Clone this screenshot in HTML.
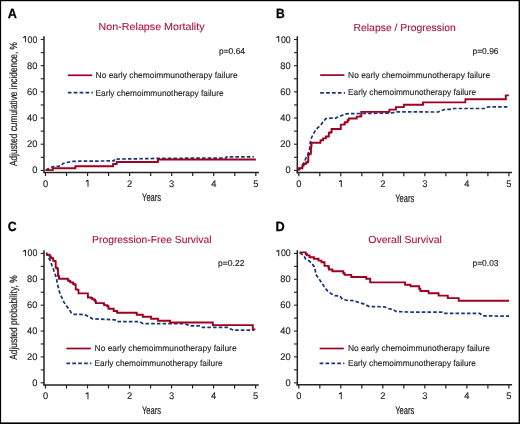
<!DOCTYPE html>
<html><head><meta charset="utf-8"><style>
html,body{margin:0;padding:0;background:#fff;}
body{width:520px;height:424px;overflow:hidden;}
svg{display:block;will-change:transform;}
text{font-family:"Liberation Sans",sans-serif;fill:#222222;text-rendering:geometricPrecision;}
.tk{font-size:9.6px;stroke:#222222;stroke-width:0.12px;}
.yr{font-size:11px;stroke:#222222;stroke-width:0.2px;}
.ti{font-size:10.3px;fill:#aa0d3e;stroke:#aa0d3e;stroke-width:0.08px;}
.lt{font-size:13.4px;font-weight:bold;fill:#000;stroke:#000;stroke-width:0.25px;}
.pv{font-size:8.6px;stroke:#222222;stroke-width:0.15px;}
.lg{font-size:8.5px;stroke:#222222;stroke-width:0.12px;}
.yl{font-size:10.5px;stroke:#222222;stroke-width:0.2px;}
</style></head><body>
<svg width="520" height="424" viewBox="0 0 520 424">
<rect x="0" y="0" width="520" height="424" fill="#fff"/>
<rect x="0" y="0" width="520" height="1.2" fill="#000"/>
<rect x="0" y="0" width="1.1" height="424" fill="#000"/>
<rect x="518.6" y="0" width="1.4" height="424" fill="#000"/>
<rect x="0" y="422.4" width="520" height="1.6" fill="#000"/>
<line x1="44.0" y1="36.3" x2="44.0" y2="173.1" stroke="#222222" stroke-width="1.5"/>
<line x1="43.3" y1="172.4" x2="259.00" y2="172.4" stroke="#222222" stroke-width="1.5"/>
<line x1="40.70" y1="170.40" x2="44.0" y2="170.40" stroke="#222222" stroke-width="1.1"/>
<text transform="translate(37.40,173.40) scale(0.97,1)" text-anchor="end" class="tk">0</text>
<line x1="40.70" y1="157.31" x2="44.0" y2="157.31" stroke="#222222" stroke-width="1.1"/>
<line x1="40.70" y1="144.22" x2="44.0" y2="144.22" stroke="#222222" stroke-width="1.1"/>
<text transform="translate(37.40,147.22) scale(0.97,1)" text-anchor="end" class="tk">20</text>
<line x1="40.70" y1="131.13" x2="44.0" y2="131.13" stroke="#222222" stroke-width="1.1"/>
<line x1="40.70" y1="118.04" x2="44.0" y2="118.04" stroke="#222222" stroke-width="1.1"/>
<text transform="translate(37.40,121.04) scale(0.97,1)" text-anchor="end" class="tk">40</text>
<line x1="40.70" y1="104.95" x2="44.0" y2="104.95" stroke="#222222" stroke-width="1.1"/>
<line x1="40.70" y1="91.86" x2="44.0" y2="91.86" stroke="#222222" stroke-width="1.1"/>
<text transform="translate(37.40,94.86) scale(0.97,1)" text-anchor="end" class="tk">60</text>
<line x1="40.70" y1="78.77" x2="44.0" y2="78.77" stroke="#222222" stroke-width="1.1"/>
<line x1="40.70" y1="65.68" x2="44.0" y2="65.68" stroke="#222222" stroke-width="1.1"/>
<text transform="translate(37.40,68.68) scale(0.97,1)" text-anchor="end" class="tk">80</text>
<line x1="40.70" y1="52.59" x2="44.0" y2="52.59" stroke="#222222" stroke-width="1.1"/>
<line x1="40.70" y1="39.50" x2="44.0" y2="39.50" stroke="#222222" stroke-width="1.1"/>
<text transform="translate(37.40,42.50) scale(0.92,1)" text-anchor="end" class="tk">00</text>
<path d="M25.45,36.00 L25.45,42.20" stroke="#222222" stroke-width="1.0" fill="none"/>
<path d="M25.25,36.35 L23.25,37.70" stroke="#222222" stroke-width="1.2" fill="none"/>
<line x1="45.50" y1="172.4" x2="45.50" y2="176.00" stroke="#222222" stroke-width="1.2"/>
<text transform="translate(45.50,186.90) scale(0.97,1)" text-anchor="middle" class="tk">0</text>
<line x1="66.53" y1="172.4" x2="66.53" y2="176.00" stroke="#222222" stroke-width="1.2"/>
<line x1="87.56" y1="172.4" x2="87.56" y2="176.00" stroke="#222222" stroke-width="1.2"/>
<path d="M88.01,179.90 L88.01,186.80" stroke="#222222" stroke-width="1.0" fill="none"/>
<path d="M87.81,180.25 L85.81,181.60" stroke="#222222" stroke-width="1.2" fill="none"/>
<line x1="108.59" y1="172.4" x2="108.59" y2="176.00" stroke="#222222" stroke-width="1.2"/>
<line x1="129.62" y1="172.4" x2="129.62" y2="176.00" stroke="#222222" stroke-width="1.2"/>
<text transform="translate(129.62,186.90) scale(0.97,1)" text-anchor="middle" class="tk">2</text>
<line x1="150.65" y1="172.4" x2="150.65" y2="176.00" stroke="#222222" stroke-width="1.2"/>
<line x1="171.68" y1="172.4" x2="171.68" y2="176.00" stroke="#222222" stroke-width="1.2"/>
<text transform="translate(171.68,186.90) scale(0.97,1)" text-anchor="middle" class="tk">3</text>
<line x1="192.71" y1="172.4" x2="192.71" y2="176.00" stroke="#222222" stroke-width="1.2"/>
<line x1="213.74" y1="172.4" x2="213.74" y2="176.00" stroke="#222222" stroke-width="1.2"/>
<text transform="translate(213.74,186.90) scale(0.97,1)" text-anchor="middle" class="tk">4</text>
<line x1="234.77" y1="172.4" x2="234.77" y2="176.00" stroke="#222222" stroke-width="1.2"/>
<line x1="255.80" y1="172.4" x2="255.80" y2="176.00" stroke="#222222" stroke-width="1.2"/>
<text transform="translate(255.80,186.90) scale(0.97,1)" text-anchor="middle" class="tk">5</text>
<text x="151.55" y="201.40" text-anchor="middle" class="yr" textLength="19" lengthAdjust="spacingAndGlyphs">Years</text>
<line x1="297.3" y1="36.3" x2="297.3" y2="173.29999999999998" stroke="#222222" stroke-width="1.5"/>
<line x1="296.6" y1="172.6" x2="512.10" y2="172.6" stroke="#222222" stroke-width="1.5"/>
<line x1="294.00" y1="170.40" x2="297.3" y2="170.40" stroke="#222222" stroke-width="1.1"/>
<text transform="translate(290.70,173.40) scale(0.97,1)" text-anchor="end" class="tk">0</text>
<line x1="294.00" y1="157.31" x2="297.3" y2="157.31" stroke="#222222" stroke-width="1.1"/>
<line x1="294.00" y1="144.22" x2="297.3" y2="144.22" stroke="#222222" stroke-width="1.1"/>
<text transform="translate(290.70,147.22) scale(0.97,1)" text-anchor="end" class="tk">20</text>
<line x1="294.00" y1="131.13" x2="297.3" y2="131.13" stroke="#222222" stroke-width="1.1"/>
<line x1="294.00" y1="118.04" x2="297.3" y2="118.04" stroke="#222222" stroke-width="1.1"/>
<text transform="translate(290.70,121.04) scale(0.97,1)" text-anchor="end" class="tk">40</text>
<line x1="294.00" y1="104.95" x2="297.3" y2="104.95" stroke="#222222" stroke-width="1.1"/>
<line x1="294.00" y1="91.86" x2="297.3" y2="91.86" stroke="#222222" stroke-width="1.1"/>
<text transform="translate(290.70,94.86) scale(0.97,1)" text-anchor="end" class="tk">60</text>
<line x1="294.00" y1="78.77" x2="297.3" y2="78.77" stroke="#222222" stroke-width="1.1"/>
<line x1="294.00" y1="65.68" x2="297.3" y2="65.68" stroke="#222222" stroke-width="1.1"/>
<text transform="translate(290.70,68.68) scale(0.97,1)" text-anchor="end" class="tk">80</text>
<line x1="294.00" y1="52.59" x2="297.3" y2="52.59" stroke="#222222" stroke-width="1.1"/>
<line x1="294.00" y1="39.50" x2="297.3" y2="39.50" stroke="#222222" stroke-width="1.1"/>
<text transform="translate(290.70,42.50) scale(0.92,1)" text-anchor="end" class="tk">00</text>
<path d="M278.75,36.00 L278.75,42.20" stroke="#222222" stroke-width="1.0" fill="none"/>
<path d="M278.55,36.35 L276.55,37.70" stroke="#222222" stroke-width="1.2" fill="none"/>
<line x1="298.80" y1="172.6" x2="298.80" y2="176.20" stroke="#222222" stroke-width="1.2"/>
<text transform="translate(298.80,187.10) scale(0.97,1)" text-anchor="middle" class="tk">0</text>
<line x1="319.81" y1="172.6" x2="319.81" y2="176.20" stroke="#222222" stroke-width="1.2"/>
<line x1="340.82" y1="172.6" x2="340.82" y2="176.20" stroke="#222222" stroke-width="1.2"/>
<path d="M341.27,180.10 L341.27,187.00" stroke="#222222" stroke-width="1.0" fill="none"/>
<path d="M341.07,180.45 L339.07,181.80" stroke="#222222" stroke-width="1.2" fill="none"/>
<line x1="361.83" y1="172.6" x2="361.83" y2="176.20" stroke="#222222" stroke-width="1.2"/>
<line x1="382.84" y1="172.6" x2="382.84" y2="176.20" stroke="#222222" stroke-width="1.2"/>
<text transform="translate(382.84,187.10) scale(0.97,1)" text-anchor="middle" class="tk">2</text>
<line x1="403.85" y1="172.6" x2="403.85" y2="176.20" stroke="#222222" stroke-width="1.2"/>
<line x1="424.86" y1="172.6" x2="424.86" y2="176.20" stroke="#222222" stroke-width="1.2"/>
<text transform="translate(424.86,187.10) scale(0.97,1)" text-anchor="middle" class="tk">3</text>
<line x1="445.87" y1="172.6" x2="445.87" y2="176.20" stroke="#222222" stroke-width="1.2"/>
<line x1="466.88" y1="172.6" x2="466.88" y2="176.20" stroke="#222222" stroke-width="1.2"/>
<text transform="translate(466.88,187.10) scale(0.97,1)" text-anchor="middle" class="tk">4</text>
<line x1="487.89" y1="172.6" x2="487.89" y2="176.20" stroke="#222222" stroke-width="1.2"/>
<line x1="508.90" y1="172.6" x2="508.90" y2="176.20" stroke="#222222" stroke-width="1.2"/>
<text transform="translate(508.90,187.10) scale(0.97,1)" text-anchor="middle" class="tk">5</text>
<text x="404.75" y="201.60" text-anchor="middle" class="yr" textLength="19" lengthAdjust="spacingAndGlyphs">Years</text>
<line x1="44.0" y1="250.2" x2="44.0" y2="385.59999999999997" stroke="#222222" stroke-width="1.5"/>
<line x1="43.3" y1="384.9" x2="258.80" y2="384.9" stroke="#222222" stroke-width="1.5"/>
<line x1="40.70" y1="382.80" x2="44.0" y2="382.80" stroke="#222222" stroke-width="1.1"/>
<text transform="translate(37.40,385.80) scale(0.97,1)" text-anchor="end" class="tk">0</text>
<line x1="40.70" y1="369.86" x2="44.0" y2="369.86" stroke="#222222" stroke-width="1.1"/>
<line x1="40.70" y1="356.92" x2="44.0" y2="356.92" stroke="#222222" stroke-width="1.1"/>
<text transform="translate(37.40,359.92) scale(0.97,1)" text-anchor="end" class="tk">20</text>
<line x1="40.70" y1="343.98" x2="44.0" y2="343.98" stroke="#222222" stroke-width="1.1"/>
<line x1="40.70" y1="331.04" x2="44.0" y2="331.04" stroke="#222222" stroke-width="1.1"/>
<text transform="translate(37.40,334.04) scale(0.97,1)" text-anchor="end" class="tk">40</text>
<line x1="40.70" y1="318.10" x2="44.0" y2="318.10" stroke="#222222" stroke-width="1.1"/>
<line x1="40.70" y1="305.16" x2="44.0" y2="305.16" stroke="#222222" stroke-width="1.1"/>
<text transform="translate(37.40,308.16) scale(0.97,1)" text-anchor="end" class="tk">60</text>
<line x1="40.70" y1="292.22" x2="44.0" y2="292.22" stroke="#222222" stroke-width="1.1"/>
<line x1="40.70" y1="279.28" x2="44.0" y2="279.28" stroke="#222222" stroke-width="1.1"/>
<text transform="translate(37.40,282.28) scale(0.97,1)" text-anchor="end" class="tk">80</text>
<line x1="40.70" y1="266.34" x2="44.0" y2="266.34" stroke="#222222" stroke-width="1.1"/>
<line x1="40.70" y1="253.40" x2="44.0" y2="253.40" stroke="#222222" stroke-width="1.1"/>
<text transform="translate(37.40,256.40) scale(0.92,1)" text-anchor="end" class="tk">00</text>
<path d="M25.45,249.90 L25.45,256.10" stroke="#222222" stroke-width="1.0" fill="none"/>
<path d="M25.25,250.25 L23.25,251.60" stroke="#222222" stroke-width="1.2" fill="none"/>
<line x1="45.50" y1="384.9" x2="45.50" y2="388.50" stroke="#222222" stroke-width="1.2"/>
<text transform="translate(45.50,399.40) scale(0.97,1)" text-anchor="middle" class="tk">0</text>
<line x1="66.51" y1="384.9" x2="66.51" y2="388.50" stroke="#222222" stroke-width="1.2"/>
<line x1="87.52" y1="384.9" x2="87.52" y2="388.50" stroke="#222222" stroke-width="1.2"/>
<path d="M87.97,392.40 L87.97,399.30" stroke="#222222" stroke-width="1.0" fill="none"/>
<path d="M87.77,392.75 L85.77,394.10" stroke="#222222" stroke-width="1.2" fill="none"/>
<line x1="108.53" y1="384.9" x2="108.53" y2="388.50" stroke="#222222" stroke-width="1.2"/>
<line x1="129.54" y1="384.9" x2="129.54" y2="388.50" stroke="#222222" stroke-width="1.2"/>
<text transform="translate(129.54,399.40) scale(0.97,1)" text-anchor="middle" class="tk">2</text>
<line x1="150.55" y1="384.9" x2="150.55" y2="388.50" stroke="#222222" stroke-width="1.2"/>
<line x1="171.56" y1="384.9" x2="171.56" y2="388.50" stroke="#222222" stroke-width="1.2"/>
<text transform="translate(171.56,399.40) scale(0.97,1)" text-anchor="middle" class="tk">3</text>
<line x1="192.57" y1="384.9" x2="192.57" y2="388.50" stroke="#222222" stroke-width="1.2"/>
<line x1="213.58" y1="384.9" x2="213.58" y2="388.50" stroke="#222222" stroke-width="1.2"/>
<text transform="translate(213.58,399.40) scale(0.97,1)" text-anchor="middle" class="tk">4</text>
<line x1="234.59" y1="384.9" x2="234.59" y2="388.50" stroke="#222222" stroke-width="1.2"/>
<line x1="255.60" y1="384.9" x2="255.60" y2="388.50" stroke="#222222" stroke-width="1.2"/>
<text transform="translate(255.60,399.40) scale(0.97,1)" text-anchor="middle" class="tk">5</text>
<text x="151.45" y="413.90" text-anchor="middle" class="yr" textLength="19" lengthAdjust="spacingAndGlyphs">Years</text>
<line x1="297.3" y1="250.2" x2="297.3" y2="385.5" stroke="#222222" stroke-width="1.5"/>
<line x1="296.6" y1="384.8" x2="512.10" y2="384.8" stroke="#222222" stroke-width="1.5"/>
<line x1="294.00" y1="382.80" x2="297.3" y2="382.80" stroke="#222222" stroke-width="1.1"/>
<text transform="translate(290.70,385.80) scale(0.97,1)" text-anchor="end" class="tk">0</text>
<line x1="294.00" y1="369.86" x2="297.3" y2="369.86" stroke="#222222" stroke-width="1.1"/>
<line x1="294.00" y1="356.92" x2="297.3" y2="356.92" stroke="#222222" stroke-width="1.1"/>
<text transform="translate(290.70,359.92) scale(0.97,1)" text-anchor="end" class="tk">20</text>
<line x1="294.00" y1="343.98" x2="297.3" y2="343.98" stroke="#222222" stroke-width="1.1"/>
<line x1="294.00" y1="331.04" x2="297.3" y2="331.04" stroke="#222222" stroke-width="1.1"/>
<text transform="translate(290.70,334.04) scale(0.97,1)" text-anchor="end" class="tk">40</text>
<line x1="294.00" y1="318.10" x2="297.3" y2="318.10" stroke="#222222" stroke-width="1.1"/>
<line x1="294.00" y1="305.16" x2="297.3" y2="305.16" stroke="#222222" stroke-width="1.1"/>
<text transform="translate(290.70,308.16) scale(0.97,1)" text-anchor="end" class="tk">60</text>
<line x1="294.00" y1="292.22" x2="297.3" y2="292.22" stroke="#222222" stroke-width="1.1"/>
<line x1="294.00" y1="279.28" x2="297.3" y2="279.28" stroke="#222222" stroke-width="1.1"/>
<text transform="translate(290.70,282.28) scale(0.97,1)" text-anchor="end" class="tk">80</text>
<line x1="294.00" y1="266.34" x2="297.3" y2="266.34" stroke="#222222" stroke-width="1.1"/>
<line x1="294.00" y1="253.40" x2="297.3" y2="253.40" stroke="#222222" stroke-width="1.1"/>
<text transform="translate(290.70,256.40) scale(0.92,1)" text-anchor="end" class="tk">00</text>
<path d="M278.75,249.90 L278.75,256.10" stroke="#222222" stroke-width="1.0" fill="none"/>
<path d="M278.55,250.25 L276.55,251.60" stroke="#222222" stroke-width="1.2" fill="none"/>
<line x1="298.80" y1="384.8" x2="298.80" y2="388.40" stroke="#222222" stroke-width="1.2"/>
<text transform="translate(298.80,399.30) scale(0.97,1)" text-anchor="middle" class="tk">0</text>
<line x1="319.81" y1="384.8" x2="319.81" y2="388.40" stroke="#222222" stroke-width="1.2"/>
<line x1="340.82" y1="384.8" x2="340.82" y2="388.40" stroke="#222222" stroke-width="1.2"/>
<path d="M341.27,392.30 L341.27,399.20" stroke="#222222" stroke-width="1.0" fill="none"/>
<path d="M341.07,392.65 L339.07,394.00" stroke="#222222" stroke-width="1.2" fill="none"/>
<line x1="361.83" y1="384.8" x2="361.83" y2="388.40" stroke="#222222" stroke-width="1.2"/>
<line x1="382.84" y1="384.8" x2="382.84" y2="388.40" stroke="#222222" stroke-width="1.2"/>
<text transform="translate(382.84,399.30) scale(0.97,1)" text-anchor="middle" class="tk">2</text>
<line x1="403.85" y1="384.8" x2="403.85" y2="388.40" stroke="#222222" stroke-width="1.2"/>
<line x1="424.86" y1="384.8" x2="424.86" y2="388.40" stroke="#222222" stroke-width="1.2"/>
<text transform="translate(424.86,399.30) scale(0.97,1)" text-anchor="middle" class="tk">3</text>
<line x1="445.87" y1="384.8" x2="445.87" y2="388.40" stroke="#222222" stroke-width="1.2"/>
<line x1="466.88" y1="384.8" x2="466.88" y2="388.40" stroke="#222222" stroke-width="1.2"/>
<text transform="translate(466.88,399.30) scale(0.97,1)" text-anchor="middle" class="tk">4</text>
<line x1="487.89" y1="384.8" x2="487.89" y2="388.40" stroke="#222222" stroke-width="1.2"/>
<line x1="508.90" y1="384.8" x2="508.90" y2="388.40" stroke="#222222" stroke-width="1.2"/>
<text transform="translate(508.90,399.30) scale(0.97,1)" text-anchor="middle" class="tk">5</text>
<text x="404.75" y="413.80" text-anchor="middle" class="yr" textLength="19" lengthAdjust="spacingAndGlyphs">Years</text>
<text x="151.6" y="30.3" text-anchor="middle" class="ti" textLength="106" lengthAdjust="spacingAndGlyphs">Non-Relapse Mortality</text>
<text x="404.7" y="30.5" text-anchor="middle" class="ti" textLength="102.4" lengthAdjust="spacingAndGlyphs">Relapse / Progression</text>
<text x="151.8" y="243.1" text-anchor="middle" class="ti" textLength="119.4" lengthAdjust="spacingAndGlyphs">Progression-Free Survival</text>
<text x="405.1" y="243.1" text-anchor="middle" class="ti" textLength="73.6" lengthAdjust="spacingAndGlyphs">Overall Survival</text>
<text transform="translate(7.7,18.1) scale(0.95,1)" class="lt">A</text>
<text transform="translate(276.0,18.2) scale(0.9,1)" class="lt">B</text>
<text transform="translate(7.7,231.3) scale(0.92,1)" class="lt">C</text>
<text transform="translate(275.5,231.1) scale(0.95,1)" class="lt">D</text>
<text x="219" y="54.1" class="pv" textLength="26" lengthAdjust="spacingAndGlyphs">p=0.64</text>
<text x="472.5" y="53.9" class="pv" textLength="26" lengthAdjust="spacingAndGlyphs">p=0.96</text>
<text x="218" y="266" class="pv" textLength="26.4" lengthAdjust="spacingAndGlyphs">p=0.22</text>
<text x="472.5" y="265.7" class="pv" textLength="26" lengthAdjust="spacingAndGlyphs">p=0.03</text>
<line x1="67.8" y1="75.3" x2="92.2" y2="75.3" stroke="#9e0022" stroke-width="1.7"/>
<line x1="67.8" y1="92.6" x2="92.8" y2="92.6" stroke="#18357a" stroke-width="1.7" stroke-dasharray="3.7 2.2"/>
<text x="95.6" y="78.1" class="lg" textLength="142" lengthAdjust="spacingAndGlyphs">No early chemoimmunotherapy failure</text>
<text x="95.6" y="95.5" class="lg" textLength="128" lengthAdjust="spacingAndGlyphs">Early chemoimmunotherapy failure</text>
<line x1="320.2" y1="75.1" x2="344.4" y2="75.1" stroke="#9e0022" stroke-width="1.7"/>
<line x1="320.2" y1="92.8" x2="345.0" y2="92.8" stroke="#18357a" stroke-width="1.7" stroke-dasharray="3.7 2.2"/>
<text x="348.1" y="78.0" class="lg" textLength="142" lengthAdjust="spacingAndGlyphs">No early chemoimmunotherapy failure</text>
<text x="348.1" y="95.4" class="lg" textLength="128" lengthAdjust="spacingAndGlyphs">Early chemoimmunotherapy failure</text>
<line x1="66.4" y1="348.5" x2="90.8" y2="348.5" stroke="#9e0022" stroke-width="1.7"/>
<line x1="66.4" y1="363.3" x2="91.39999999999999" y2="363.3" stroke="#18357a" stroke-width="1.7" stroke-dasharray="3.7 2.2"/>
<text x="94.6" y="351.3" class="lg" textLength="142" lengthAdjust="spacingAndGlyphs">No early chemoimmunotherapy failure</text>
<text x="94.6" y="365.5" class="lg" textLength="128" lengthAdjust="spacingAndGlyphs">Early chemoimmunotherapy failure</text>
<line x1="319.6" y1="348.5" x2="343.8" y2="348.5" stroke="#9e0022" stroke-width="1.7"/>
<line x1="319.6" y1="363.3" x2="344.40000000000003" y2="363.3" stroke="#18357a" stroke-width="1.7" stroke-dasharray="3.7 2.2"/>
<text x="347.9" y="351.3" class="lg" textLength="142" lengthAdjust="spacingAndGlyphs">No early chemoimmunotherapy failure</text>
<text x="347.9" y="365.5" class="lg" textLength="128" lengthAdjust="spacingAndGlyphs">Early chemoimmunotherapy failure</text>
<text transform="translate(17,104) rotate(-90)" text-anchor="middle" class="yl" textLength="124" lengthAdjust="spacingAndGlyphs">Adjusted cumulative incidence, %</text>
<text transform="translate(17,317.6) rotate(-90)" text-anchor="middle" class="yl" textLength="84.3" lengthAdjust="spacingAndGlyphs">Adjusted probability, %</text>
<path d="M45.90,169.90 L47.60,169.10 L50.70,167.80 L53.00,166.60 L56.80,166.30 L60.30,166.00 L61.80,165.20 L63.00,163.40 L66.10,162.60 L69.20,162.00 L72.20,161.40 L80.00,161.20 L114.00,160.90 L114.50,159.10 L150.00,158.60 L160.00,158.30 L226.00,158.10 L226.50,156.90 L253.80,156.90" fill="none" stroke="#18357a" stroke-width="1.7" stroke-dasharray="3.6 2.1" stroke-linejoin="miter"/>
<path d="M299.00,170.20 L301.10,167.40 L304.10,162.30 L305.80,158.50 L307.90,154.30 L309.60,148.70 L310.00,144.50 L310.80,139.50 L312.70,135.10 L315.10,130.90 L317.40,128.10 L320.70,125.20 L323.10,121.90 L325.90,118.60 L330.60,118.20 L335.80,118.20 L338.20,116.70 L341.00,115.80 L345.30,114.20 L348.10,113.60 L363.10,113.50 L388.40,113.10 L393.10,112.60 L396.50,111.90 L438.30,112.00 L441.10,110.70 L444.60,109.50 L450.00,109.30 L453.60,108.50 L484.60,108.50 L488.10,106.80 L509.00,106.80" fill="none" stroke="#18357a" stroke-width="1.7" stroke-dasharray="3.6 2.1" stroke-linejoin="miter"/>
<path d="M46.40,252.60 L48.70,257.80 L50.60,261.30 L52.00,265.60 L53.50,269.50 L55.20,274.40 L56.60,278.70 L57.20,283.00 L58.20,287.00 L60.10,294.20 L62.00,297.90 L63.90,302.20 L66.20,305.50 L69.10,309.20 L71.40,313.00 L74.20,314.40 L80.80,314.40 L85.10,314.90 L87.00,315.80 L89.80,317.30 L92.60,318.80 L105.00,319.40 L113.10,319.60 L116.50,320.20 L118.30,321.70 L139.60,321.70 L141.90,323.10 L143.10,323.60 L184.20,323.60 L186.50,324.40 L190.00,325.90 L199.20,325.90 L201.50,327.30 L227.80,327.30 L230.20,328.75 L233.60,330.20 L254.20,330.20" fill="none" stroke="#18357a" stroke-width="1.7" stroke-dasharray="3.6 2.1" stroke-linejoin="miter"/>
<path d="M299.80,252.70 L301.70,254.10 L303.00,255.40 L304.20,256.50 L305.70,259.00 L307.20,259.80 L309.50,261.30 L311.10,262.70 L312.60,264.40 L314.40,266.90 L315.30,270.60 L315.80,274.40 L317.70,277.00 L320.00,280.30 L322.30,283.60 L324.50,287.20 L327.50,290.90 L331.30,293.80 L335.10,295.70 L339.80,296.10 L342.60,299.40 L347.40,300.40 L354.00,300.60 L358.50,302.40 L364.40,304.20 L369.20,306.60 L384.50,306.80 L388.00,308.70 L392.70,309.30 L396.30,311.50 L410.00,312.10 L443.40,312.10 L445.20,313.40 L479.70,313.40 L482.70,315.80 L509.00,316.20" fill="none" stroke="#18357a" stroke-width="1.7" stroke-dasharray="3.6 2.1" stroke-linejoin="miter"/>
<path d="M45.50,170.10 L52.70,170.10 L52.70,168.30 L75.40,168.30 L75.40,166.20 L113.10,166.20 L113.10,164.00 L116.70,164.00 L116.70,162.00 L157.90,162.00 L157.90,159.50 L255.90,159.50" fill="none" stroke="#9e0022" stroke-width="1.9" stroke-linejoin="miter"/>
<path d="M298.40,170.40 L298.40,168.30 L300.20,168.30 L302.40,168.30 L302.40,165.70 L303.60,165.70 L303.60,164.00 L305.30,164.00 L305.30,163.60 L306.20,163.60 L306.20,162.30 L307.90,162.30 L307.90,161.50 L308.30,161.50 L308.30,154.70 L309.20,154.70 L309.20,153.80 L310.90,153.80 L311.10,146.20 L311.50,146.20 L311.50,142.70 L320.40,142.70 L320.60,140.30 L322.60,140.30 L323.10,140.30 L323.10,138.40 L325.40,138.40 L325.90,138.40 L325.90,136.50 L328.30,136.50 L328.80,136.50 L328.80,132.80 L330.60,132.80 L330.60,132.30 L331.60,132.30 L331.60,129.00 L340.50,129.00 L340.80,129.00 L340.80,124.60 L344.10,124.60 L344.10,124.30 L344.80,124.30 L344.80,122.30 L347.20,122.30 L347.20,121.90 L347.60,121.90 L347.60,120.30 L348.40,120.30 L348.70,120.30 L348.70,118.50 L356.10,118.50 L356.70,118.50 L356.70,116.60 L360.20,116.60 L360.20,116.20 L361.30,116.20 L361.30,111.90 L389.00,111.90 L389.40,111.90 L389.40,109.60 L395.40,109.60 L395.90,109.60 L395.90,107.10 L403.80,107.10 L404.00,104.70 L422.70,104.70 L423.00,104.70 L423.00,102.40 L465.30,102.40 L465.50,99.30 L505.40,99.30 L505.80,99.30 L505.80,95.40 L508.90,95.40" fill="none" stroke="#9e0022" stroke-width="1.9" stroke-linejoin="miter"/>
<path d="M46.20,254.80 L49.40,254.80 L49.70,254.80 L49.70,256.50 L50.60,256.50 L50.90,256.50 L50.90,258.30 L52.90,258.30 L53.20,258.30 L53.20,260.90 L55.30,260.90 L55.30,261.50 L55.70,261.50 L55.70,267.80 L57.10,267.80 L57.10,268.30 L57.60,268.30 L57.60,269.20 L58.00,269.20 L58.00,275.40 L58.50,275.40 L58.50,276.30 L59.00,276.30 L59.00,278.70 L67.00,278.70 L67.90,278.70 L67.90,280.50 L69.40,280.50 L69.40,281.00 L70.30,281.00 L70.30,282.40 L72.60,282.40 L72.60,282.80 L73.30,282.80 L73.30,284.20 L75.20,284.20 L75.20,284.70 L75.70,284.70 L75.70,289.40 L77.50,289.40 L77.50,289.90 L78.50,289.90 L78.50,293.40 L87.50,293.40 L87.90,293.40 L87.90,297.50 L91.20,297.50 L91.20,297.90 L92.20,297.90 L92.20,299.30 L94.10,299.30 L94.10,299.80 L95.00,299.80 L95.00,301.20 L95.90,301.20 L95.90,303.10 L103.00,303.10 L104.00,303.10 L104.00,305.00 L106.20,305.20 L107.30,305.20 L107.30,306.30 L108.50,306.30 L108.50,308.70 L113.10,308.70 L113.70,308.70 L113.70,311.00 L116.50,311.00 L117.10,311.00 L117.10,312.70 L136.10,312.70 L136.70,312.70 L136.70,314.80 L142.50,314.80 L142.80,314.80 L142.80,316.70 L150.60,316.70 L151.10,316.70 L151.10,318.70 L157.50,318.70 L158.10,318.70 L158.10,320.70 L169.80,320.70 L170.10,320.70 L170.10,322.50 L212.50,322.50 L212.80,322.50 L212.80,325.10 L252.30,325.10 L252.80,325.10 L252.80,329.40 L255.40,329.40" fill="none" stroke="#9e0022" stroke-width="1.9" stroke-linejoin="miter"/>
<path d="M299.50,252.40 L305.70,252.40 L305.80,254.00 L306.80,254.00 L306.80,255.40 L309.30,255.40 L309.60,255.40 L309.60,257.20 L313.50,257.20 L313.90,257.20 L313.90,258.70 L318.20,258.70 L318.50,258.70 L318.50,260.60 L321.20,260.60 L321.50,260.60 L321.50,262.20 L324.20,262.20 L324.50,262.20 L324.50,265.90 L328.10,265.90 L328.50,265.90 L328.50,267.70 L329.00,267.70 L329.00,269.50 L331.90,269.50 L332.40,269.50 L332.40,271.30 L342.80,271.30 L343.30,271.30 L343.30,273.20 L344.60,273.20 L344.60,274.90 L350.80,274.90 L351.30,274.90 L351.30,277.00 L365.80,277.00 L366.30,277.00 L366.30,278.70 L369.90,278.70 L370.20,278.70 L370.20,282.40 L404.50,282.40 L405.10,282.40 L405.10,284.70 L410.40,284.70 L410.60,286.30 L418.10,286.30 L419.20,286.30 L419.20,288.70 L420.40,288.70 L420.40,291.00 L428.50,291.00 L428.70,293.30 L438.30,293.30 L438.60,293.30 L438.60,295.60 L447.50,295.60 L447.80,295.60 L447.80,298.10 L458.40,298.10 L458.70,298.10 L458.70,300.80 L509.00,300.80" fill="none" stroke="#9e0022" stroke-width="1.9" stroke-linejoin="miter"/>
</svg>
</body></html>
